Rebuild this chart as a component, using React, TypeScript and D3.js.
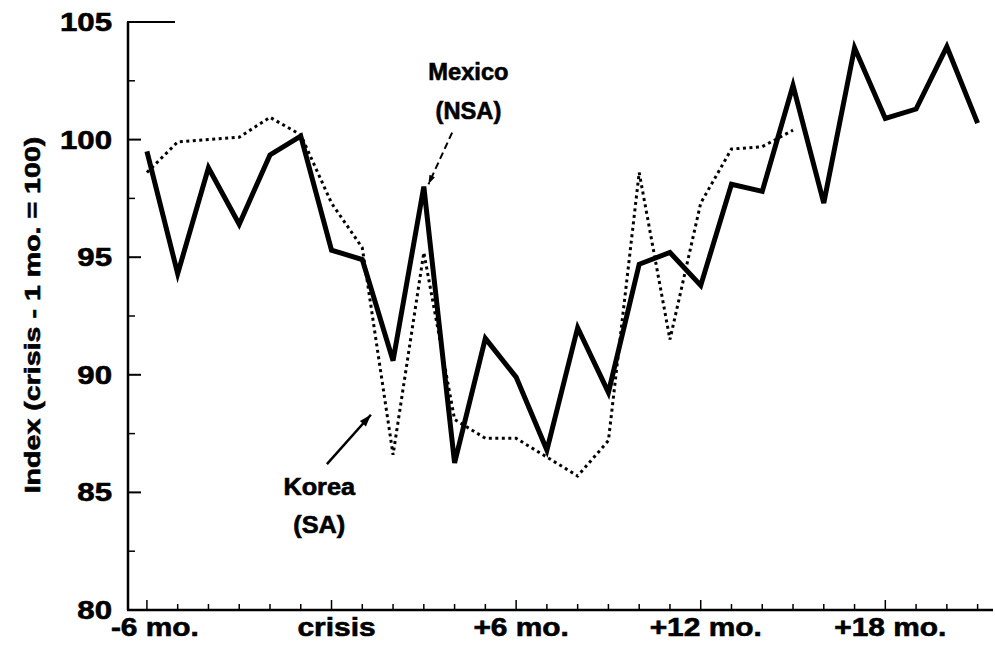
import React from 'react';
import * as d3 from 'd3';

// months relative to the crisis month
const mexicoMonths = d3.range(-6, 22);
const mexicoValues = [99.5, 94.3, 98.8, 96.4, 99.35, 100.15, 95.3, 94.9, 90.6, 98.0, 86.25, 91.55, 89.9, 86.8, 92.0, 89.25, 94.7, 95.2, 93.8, 98.1, 97.8, 102.3, 97.3, 103.9, 100.9, 101.3, 103.95, 100.7];

const koreaMonths = d3.range(-6, 16);
const koreaValues = [98.6, 99.9, 100.0, 100.1, 100.95, 100.2, 97.3, 95.4, 86.6, 95.2, 88.1, 87.3, 87.3, 86.5, 85.7, 87.2, 98.6, 91.5, 97.3, 99.6, 99.7, 100.4];

const yTicks = [80, 85, 90, 95, 100, 105];
const yMinorTicks = [82.5, 87.5, 92.5, 97.5, 102.5];
const xLabelMonths = [-6, 0, 6, 12, 18];
const xLabels = ['-6 mo.', 'crisis', '+6 mo.', '+12 mo.', '+18 mo.'];
const yTitle = 'Index (crisis - 1 mo. = 100)';

const FONT = '"Liberation Sans", Arial, Helvetica, sans-serif';

// stretched bold text, like the scanned original
const Label = ({ x, y, text, size, sx = 1.2, anchor = 'middle', rotate = 0 }: any) => (
    <g transform={`translate(${x},${y}) rotate(${rotate}) scale(${sx},1)`}>
        <text textAnchor={anchor} dominantBaseline="central" fontFamily={FONT}
            fontWeight="bold" fontSize={size} fill="#000" stroke="#000" strokeWidth={0.6}>{text}</text>
    </g>
);

export default function App() {
    const width = 995;
    const height = 658;

    const x = d3.scaleLinear().domain([-6.55, 21.5]).range([130, 993]);
    const y = d3.scaleLinear().domain([80, 105]).range([610, 22]);

    const line = d3.line<[number, number]>()
        .x(d => x(d[0]))
        .y(d => y(d[1]));

    const mexico = mexicoMonths.map((m, i) => [m, mexicoValues[i]] as [number, number]);
    const korea = koreaMonths.map((m, i) => [m, koreaValues[i]] as [number, number]);

    const [x0, x1] = x.range();
    const [yBottom, yTop] = y.range();
    const monthTicks = d3.range(-6, 22);

    //arrow heads
    const head = (fx: number, fy: number, tx: number, ty: number, len = 11, w = 4) => {
        const a = Math.atan2(ty - fy, tx - fx);
        const bx = tx - len * Math.cos(a);
        const by = ty - len * Math.sin(a);
        const px = -Math.sin(a) * w;
        const py = Math.cos(a) * w;
        return `M${tx},${ty}L${bx + px},${by + py}L${bx - px},${by - py}Z`;
    };

    const mexArrow = { x1: x(3.92), y1: y(100.3), x2: x(3.15), y2: y(98.1) };
    const korArrow = { x1: x(-0.15), y1: y(86.2), x2: x(1.28), y2: y(88.3) };

    return (
        <svg width={width} height={height} style={{ position: 'absolute', left: 0, top: 0, background: '#fff' }}>
            <rect width={width} height={height} fill="#fff" />

            {/* axes */}
            <line x1={x0 - 2} x2={x0 - 2} y1={yTop} y2={yBottom} stroke="#000" strokeWidth={2.5} />
            <line x1={x0 - 3} x2={x1} y1={yBottom} y2={yBottom} stroke="#000" strokeWidth={2.5} />
            <line x1={x0 - 3} x2={x0 + 45} y1={yTop} y2={yTop} stroke="#000" strokeWidth={2} />

            {yTicks.slice(1, -1).map(t => (
                <line key={'yt' + t} x1={x0 - 2} x2={x0 + 11} y1={y(t)} y2={y(t)} stroke="#000" strokeWidth={2} />
            ))}
            {yMinorTicks.map(t => (
                <line key={'ym' + t} x1={x0 - 2} x2={x0 + 5} y1={y(t)} y2={y(t)} stroke="#000" strokeWidth={1.5} />
            ))}
            {monthTicks.map(m => (
                <line key={'xt' + m} x1={x(m)} x2={x(m)} y1={yBottom}
                    y2={yBottom - (xLabelMonths.includes(m) ? 10 : 6)} stroke="#000" strokeWidth={1.5} />
            ))}

            {/* tick labels */}
            {yTicks.map(t => (
                <Label key={'yl' + t} x={112} y={y(t)} text={String(t)} size={26} sx={1.2} anchor="end" />
            ))}
            {xLabelMonths.map((m, i) => (
                <Label key={'xl' + m} x={x(m) + (i === 0 ? 8 : 5)} y={627} text={xLabels[i]} size={26} sx={1.15} />
            ))}
            <Label x={32} y={315} text={yTitle} size={22} sx={1.3} rotate={-90} />

            {/* series */}
            <path d={line(korea) || ''} fill="none" stroke="#000" strokeWidth={3}
                strokeDasharray="3,3.5" />
            <path d={line(mexico) || ''} fill="none" stroke="#000" strokeWidth={5} strokeLinejoin="miter" />

            {/* annotations */}
            <Label x={x(4.45)} y={y(102.85)} text="Mexico" size={23} sx={1.03} />
            <Label x={x(4.45)} y={y(101.2)} text="(NSA)" size={23} sx={1.03} />
            <line x1={mexArrow.x1} y1={mexArrow.y1} x2={mexArrow.x2} y2={mexArrow.y2}
                stroke="#000" strokeWidth={2} strokeDasharray="7,4" />
            <path d={head(mexArrow.x1, mexArrow.y1, mexArrow.x2, mexArrow.y2, 9, 3)} fill="#000" />

            <Label x={x(-0.4)} y={y(85.25)} text="Korea" size={23} sx={1.1} />
            <Label x={x(-0.4)} y={y(83.6)} text="(SA)" size={23} sx={1.1} />
            <line x1={korArrow.x1} y1={korArrow.y1} x2={korArrow.x2} y2={korArrow.y2}
                stroke="#000" strokeWidth={2.5} />
            <path d={head(korArrow.x1, korArrow.y1, korArrow.x2, korArrow.y2, 12, 4)} fill="#000" />
        </svg>
    );
}
